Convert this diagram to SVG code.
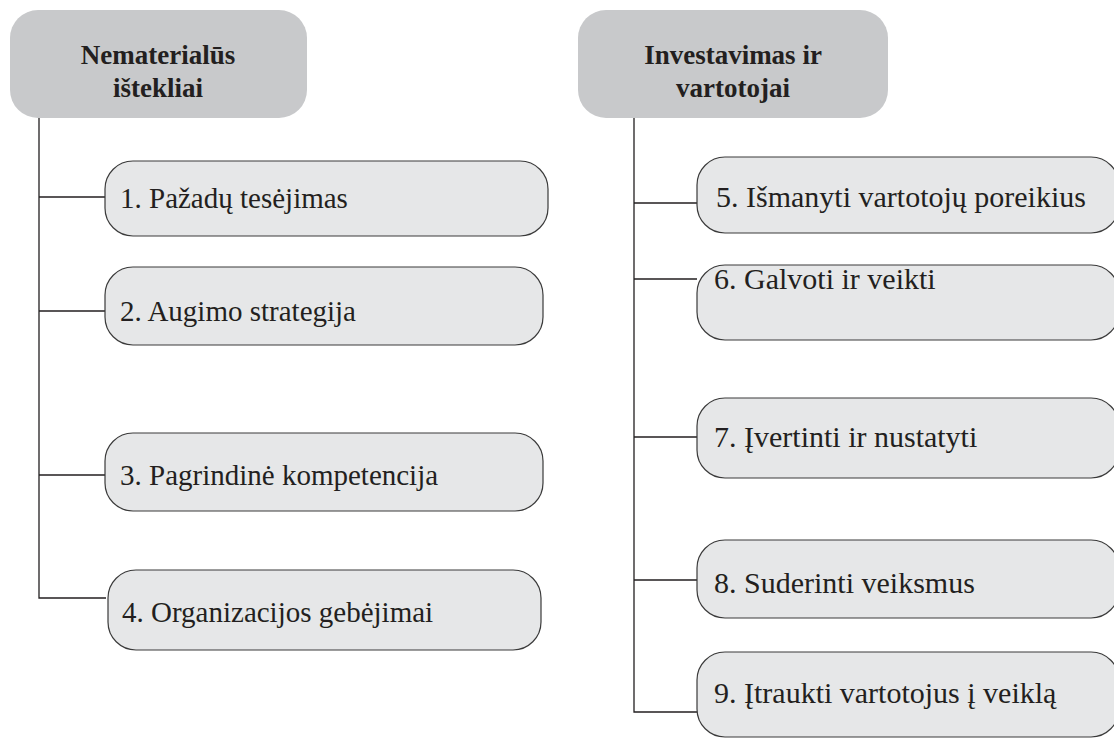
<svg xmlns="http://www.w3.org/2000/svg" width="1114" height="742" viewBox="0 0 1114 742">
<style>
.hdr{fill:#c8c9cb;stroke:none}
.nd{fill:#e6e7e8;stroke:#3a3a3a;stroke-width:1.2}
.ht{font-family:"Liberation Serif","Times New Roman",serif;font-weight:bold;font-size:27px;fill:#231f20;text-anchor:middle}
.nt{font-family:"Liberation Serif","Times New Roman",serif;font-size:29px;fill:#231f20}
.nr{font-size:30px}
.cn{stroke:#231f20;stroke-width:1.3;fill:none}
</style>
<rect width="1114" height="742" fill="#ffffff"/>
<g id="connectors">
<path class="cn" d="M39 118V598H106"/>
<path class="cn" d="M39 197H106M39 311H106M39 475H106"/>
<path class="cn" d="M634 118V712H697"/>
<path class="cn" d="M634 203H697M634 279H697M634 437H697M634 580H697"/>
</g>
<g id="h1"><rect class="hdr" x="10" y="10" width="297" height="108" rx="28"/><text class="ht" x="158" y="64">Nematerialūs</text><text class="ht" x="158" y="97">ištekliai</text></g>
<g id="h2"><rect class="hdr" x="578" y="10" width="310" height="108" rx="28"/><text class="ht" x="733" y="64">Investavimas ir</text><text class="ht" x="733" y="97">vartotojai</text></g>
<g id="n1"><rect class="nd" x="105" y="161" width="443" height="75" rx="28"/><text class="nt" x="120" y="208">1. Pažadų tesėjimas</text></g>
<g id="n2"><rect class="nd" x="105" y="267" width="438" height="78" rx="28"/><text class="nt" x="120" y="321">2. Augimo strategija</text></g>
<g id="n3"><rect class="nd" x="105" y="433" width="438" height="78" rx="28"/><text class="nt" x="120" y="485">3. Pagrindinė kompetencija</text></g>
<g id="n4"><rect class="nd" x="108" y="570" width="433" height="80" rx="28"/><text class="nt" x="122" y="622">4. Organizacijos gebėjimai</text></g>
<g id="n5"><rect class="nd" x="697" y="157" width="422" height="76" rx="28"/><text class="nt nr" x="716" y="207">5. Išmanyti vartotojų poreikius</text></g>
<g id="n6"><rect class="nd" x="697" y="265" width="422" height="75" rx="28"/><text class="nt nr" x="714" y="289">6. Galvoti ir veikti</text></g>
<g id="n7"><rect class="nd" x="697" y="398" width="422" height="80" rx="28"/><text class="nt nr" x="714" y="447">7. Įvertinti ir nustatyti</text></g>
<g id="n8"><rect class="nd" x="697" y="540" width="422" height="78" rx="28"/><text class="nt nr" x="714" y="593">8. Suderinti veiksmus</text></g>
<g id="n9"><rect class="nd" x="697" y="652" width="422" height="85" rx="28"/><text class="nt nr" x="714" y="703">9. Įtraukti vartotojus į veiklą</text></g>
</svg>
